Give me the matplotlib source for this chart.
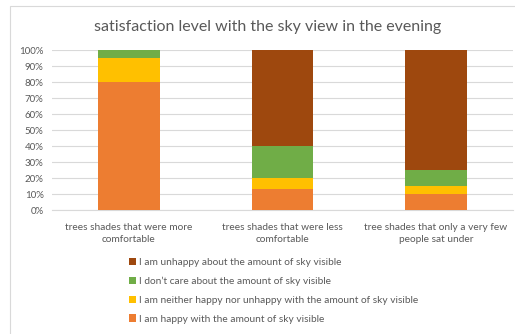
import numpy as np
import matplotlib.pyplot as plt
from matplotlib.patches import Rectangle

# data (percent of respondents)
categories = ['trees shades that were more\ncomfortable',
              'trees shades that were less\ncomfortable',
              'tree shades that only a very few\npeople sat under']
happy     = [80, 13.3, 10]
neither   = [15, 6.7, 5]
dont_care = [5, 20, 10]
unhappy   = [0, 60, 75]

labels = ['I am happy with the amount of sky visible',
          'I am neither happy nor unhappy with the amount of sky visible',
          'I don\u2019t care about the amount of sky visible',
          'I am unhappy about the amount of sky visible']
colors = ['#ED7D31', '#FFC000', '#70AD47', '#9E480E']

plt.rcParams['font.family'] = ['Lato', 'DejaVu Sans']

fig = plt.figure(figsize=(5.15, 3.34), dpi=100)
ax = fig.add_axes([0.101, 0.371, 0.895, 0.479])

x = np.arange(len(categories))
bottom = np.zeros(len(categories))
bars = []
for vals, col, lab in zip([happy, neither, dont_care, unhappy], colors, labels):
    b = ax.bar(x, vals, 0.4, bottom=bottom, color=col, label=lab, zorder=3)
    bars.append(b)
    bottom += np.array(vals)

ax.set_xlim(-0.5, 2.5)
ax.set_ylim(0, 100)
ax.set_yticks(np.arange(0, 101, 10))
ax.set_yticklabels(['%d%%' % v for v in range(0, 101, 10)], fontsize=7, color='#595959')
ax.set_xticks(x)
ax.set_xticklabels(categories, fontsize=7.3, color='#595959', linespacing=1.55)
ax.tick_params(axis='y', length=0, pad=6)
ax.tick_params(axis='x', length=0, pad=9)
ax.grid(axis='y', color='#D9D9D9', linewidth=0.8, zorder=0)
for s in ['top', 'right', 'left']:
    ax.spines[s].set_visible(False)
ax.spines['bottom'].set_color('#D9D9D9')

fig.text(0.52, 0.92, 'satisfaction level with the sky view in the evening',
         ha='center', va='center', fontsize=11.5, color='#595959')

fig.legend(bars[::-1], labels[::-1], loc='upper left', bbox_to_anchor=(0.232, 0.255),
           frameon=False, fontsize=7.3, handlelength=0.7, handleheight=0.7,
           handletextpad=0.3, labelspacing=0.95, labelcolor='#595959')

# chart frame
fig.patches.append(Rectangle((10 / 515, -0.01), 1.0, 0.993, transform=fig.transFigure,
                             fill=False, edgecolor='#D9D9D9', linewidth=0.8))

fig.savefig('out.png', dpi=100)
